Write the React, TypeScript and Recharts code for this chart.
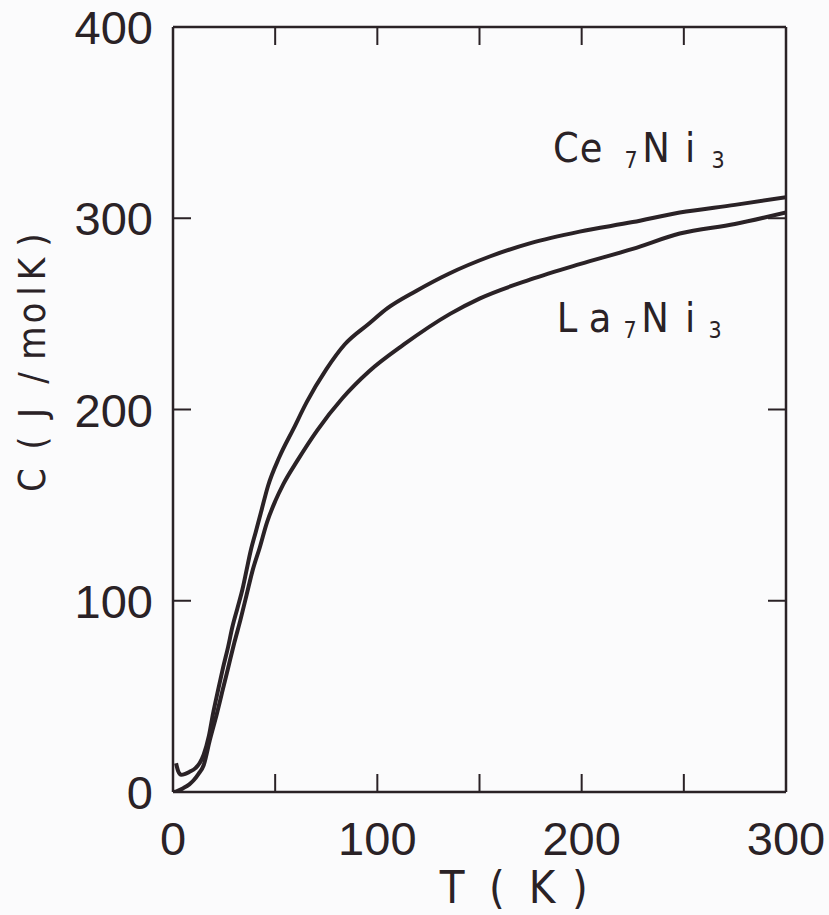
import React from 'react';
import { LineChart, Line, XAxis, YAxis } from 'recharts';

// temperature (K) / specific heat (J/molK)
const ceT = [1.5, 2.5, 4, 6, 8, 11, 13, 15, 17.5, 19.6, 22, 24.5, 27, 29, 31.5, 34, 36, 38, 40.5, 43, 46.5, 52, 59, 65.5, 75, 84, 96, 105, 119, 135, 155, 175, 199, 225, 248, 275, 300];
const ceC = [15, 11, 9, 9.5, 10.5, 12.5, 15, 19.5, 29, 41, 53, 65, 76, 86, 96, 106, 116, 126, 136, 146, 160, 175, 190, 204, 221, 234, 245, 253, 262, 271, 280, 287, 293, 298, 303, 307, 311];

const laT = [0.5, 2, 5, 8, 10, 12.5, 15, 18, 21.5, 24, 27, 30, 33, 36, 39, 42.5, 46, 50, 54, 60.7, 70.5, 83, 96, 113, 135.6, 150, 175, 199, 225, 248, 275, 300];
const laC = [0, 0.5, 2, 4, 6, 9.5, 14, 27, 41, 52, 65, 78, 90, 103, 116, 128, 141, 152, 161, 173, 189, 206, 220, 234, 250, 258, 268, 276, 284, 292, 297, 303];

const xTicks = [0, 50, 100, 150, 200, 250, 300];
const yTicks = [0, 100, 200, 300, 400];

const ceData = ceT.map((t, i) => ({ T: t, C: ceC[i] }));
const laData = laT.map((t, i) => ({ T: t, C: laC[i] }));

const INK = '#2a2226';
const NUM_FONT = '"Liberation Sans", Arial, sans-serif';
const NARROW = '"Liberation Sans Narrow", "DejaVu Sans Condensed", "Liberation Sans", sans-serif';
const TICK_LEN = 18;

const BottomTick = ({ x, y, payload }: any) => (
  <g>
    <line x1={x} y1={y} x2={x} y2={y - TICK_LEN} stroke={INK} strokeWidth={2} />
    {payload.value % 100 === 0 && (
      <text x={x} y={y + 63} textAnchor="middle" fontFamily={NUM_FONT} fontSize={47} fill={INK}>
        {payload.value}
      </text>
    )}
  </g>
);

const TopTick = ({ x, y }: any) => (
  <line x1={x} y1={y} x2={x} y2={y + TICK_LEN} stroke={INK} strokeWidth={2} />
);

const LeftTick = ({ x, y, payload }: any) => (
  <g>
    <line x1={x} y1={y} x2={x + TICK_LEN} y2={y} stroke={INK} strokeWidth={2} />
    <text x={x - 20} y={y + 17} textAnchor="end" fontFamily={NUM_FONT} fontSize={47} fill={INK}>
      {payload.value}
    </text>
  </g>
);

const RightTick = ({ x, y }: any) => (
  <line x1={x} y1={y} x2={x - TICK_LEN} y2={y} stroke={INK} strokeWidth={2} />
);

// spaced-out label text, one tspan per glyph
const XTitle = () => (
  <text y={903} fontFamily={NARROW} fontSize={45} fill={INK} textAnchor="middle">
    <tspan x={452}>T</tspan>
    <tspan x={474}> </tspan>
    <tspan x={497}>(</tspan>
    <tspan x={542}>K</tspan>
    <tspan x={580}>)</tspan>
  </text>
);

const yChars: [string, number][] = [['C', 480], [' ', 462], ['(', 443], ['J', 413], ['/', 378], ['m', 343], ['o', 313], ['l', 291], ['K', 269], [')', 240]];

const YTitle = () => (
  <text transform="rotate(-90)" y={45} fontFamily={NARROW} fontSize={38} fill={INK} textAnchor="middle">
    {yChars.map(([c, py], i) => (
      <tspan key={i} x={-py}>{c}</tspan>
    ))}
  </text>
);

const Formula = ({ a, b, y, pos }: { a: string; b: string; y: number; pos: number[] }) => (
  <text fontFamily={NARROW} fill={INK} textAnchor="middle">
    <tspan x={pos[0]} y={y} fontSize={41}>{a[0]}</tspan>
    <tspan x={pos[1]} y={y} fontSize={41}>{a[1]}</tspan>
    <tspan x={pos[2]} y={y + 6} fontSize={23}>7</tspan>
    <tspan x={pos[3]} y={y} fontSize={41}>{b[0]}</tspan>
    <tspan x={pos[4]} y={y} fontSize={41}>{b[1]}</tspan>
    <tspan x={pos[5]} y={y + 6} fontSize={23}>3</tspan>
  </text>
);

export default function App() {
  return (
    <div style={{ position: 'absolute', left: 0, top: 0, width: 829, height: 915, background: '#fbfbfc' }}>
      <LineChart width={829} height={915} margin={{ top: 26, right: 42, left: 0, bottom: 0 }}>
        <XAxis
          xAxisId="b"
          type="number"
          dataKey="T"
          domain={[0, 300]}
          ticks={xTicks}
          height={123}
          tickLine={false}
          tickSize={0}
          tickMargin={0}
          axisLine={{ stroke: INK, strokeWidth: 2.5 }}
          tick={<BottomTick />}
          allowDataOverflow
        />
        <XAxis
          xAxisId="t"
          orientation="top"
          type="number"
          dataKey="T"
          domain={[0, 300]}
          ticks={xTicks}
          height={1}
          tickLine={false}
          tickSize={0}
          tickMargin={0}
          axisLine={{ stroke: INK, strokeWidth: 2.5 }}
          tick={<TopTick />}
          allowDataOverflow
        />
        <YAxis
          yAxisId="l"
          type="number"
          domain={[0, 400]}
          ticks={yTicks}
          width={173}
          tickLine={false}
          tickSize={0}
          tickMargin={0}
          axisLine={{ stroke: INK, strokeWidth: 2.5 }}
          tick={<LeftTick />}
          allowDataOverflow
        />
        <YAxis
          yAxisId="r"
          orientation="right"
          type="number"
          domain={[0, 400]}
          ticks={yTicks}
          width={1}
          tickLine={false}
          tickSize={0}
          tickMargin={0}
          axisLine={{ stroke: INK, strokeWidth: 2.5 }}
          tick={<RightTick />}
          allowDataOverflow
        />
        {/* invisible copy so the top/right frame axes get drawn */}
        <Line
          data={ceData}
          dataKey="C"
          xAxisId="t"
          yAxisId="r"
          stroke="none"
          dot={false}
          activeDot={false}
          legendType="none"
          isAnimationActive={false}
        />
        <Line
          data={laData}
          dataKey="C"
          xAxisId="b"
          yAxisId="l"
          type="monotone"
          stroke={INK}
          strokeWidth={4}
          dot={false}
          isAnimationActive={false}
        />
        <Line
          data={ceData}
          dataKey="C"
          xAxisId="b"
          yAxisId="l"
          type="monotone"
          stroke={INK}
          strokeWidth={4}
          dot={false}
          isAnimationActive={false}
        />
        <XTitle />
        <YTitle />
        <Formula a="Ce" b="Ni" y={162} pos={[566, 591, 631, 656, 690, 718]} />
        <Formula a="La" b="Ni" y={332} pos={[567, 600, 630, 655, 690, 715]} />
      </LineChart>
    </div>
  );
}
